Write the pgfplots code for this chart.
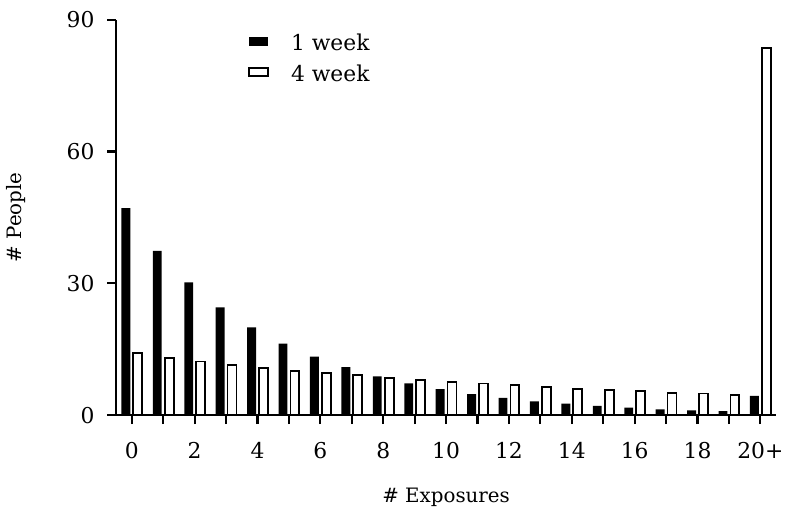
\documentclass[border=0pt]{standalone}
\usepackage{fontspec}
\setmainfont{DejaVu Serif}
\usepackage{pgfplots}
\usepackage{pgfplotstable}
\pgfplotsset{compat=1.18}

% Number of people by number of exposures, after 1 week and after 4 weeks
\pgfplotstableread{
x  one   four
0  47.1  14.2
1  37.4  13.0
2  30.2  12.2
3  24.5  11.4
4  20.0  10.7
5  16.3  10.1
6  13.3   9.5
7  10.9   9.1
8   8.8   8.5
9   7.2   8.0
10  5.9   7.6
11  4.8   7.2
12  3.9   6.8
13  3.1   6.4
14  2.6   6.0
15  2.1   5.8
16  1.7   5.5
17  1.3   5.1
18  1.1   4.9
19  0.9   4.6
20  4.4  83.6
}\exposures

\newcommand\ticksize{\fontsize{11}{13}\selectfont}

\begin{document}
\begin{tikzpicture}
\begin{axis}[
  scale only axis,
  width=332.85pt, height=199.35pt,
  ybar=1.5pt, bar width=4.5pt,
  xmin=-0.5, xmax=20.5, ymin=0, ymax=90,
  axis x line=bottom, axis y line=left,
  axis line style={-, line width=1.1pt},
  tick align=outside, major tick length=4.5pt,
  every tick/.style={line width=1.1pt, black},
  xtick={0,...,20},
  xticklabels={0,,2,,4,,6,,8,,10,,12,,14,,16,,18,,20+},
  ytick={0,30,60,90},
  /pgf/number format/assume math mode=true,
  xticklabel style={font=\ticksize, anchor=base, yshift=-17.6pt},
  yticklabel style={font=\ticksize, anchor=east, xshift=-6.2pt, inner sep=0pt},
  xlabel={\# Exposures}, ylabel={\# People},
  xlabel style={at={(rel axis cs:0.5,0)}, anchor=base, yshift=-43.9pt},
  ylabel style={at={(rel axis cs:-0.1262,0.5)}, anchor=south},
  legend cell align=left,
  legend style={draw=none, fill=none, inner sep=0pt, row sep=1.5pt,
    font=\ticksize,
    at={(rel axis cs:0.2,0.975)}, anchor=north west},
  legend image code/.code={\draw[#1] (0pt,-1pt) rectangle (9.3pt,3pt);
    \path[draw=none, fill=none] (0pt,0pt) -- (19pt,0pt);},
  clip=false,
]
\addplot[fill=black, draw=none] table[x=x, y=one] {\exposures};
\addplot[fill=white, draw=black, line width=0.9pt] table[x=x, y=four] {\exposures};
\legend{1 week, 4 week}
\path (rel axis cs:-0.17575,-0.2390) rectangle (rel axis cs:1.01097,1.05017);
\end{axis}
\end{tikzpicture}
\end{document}
